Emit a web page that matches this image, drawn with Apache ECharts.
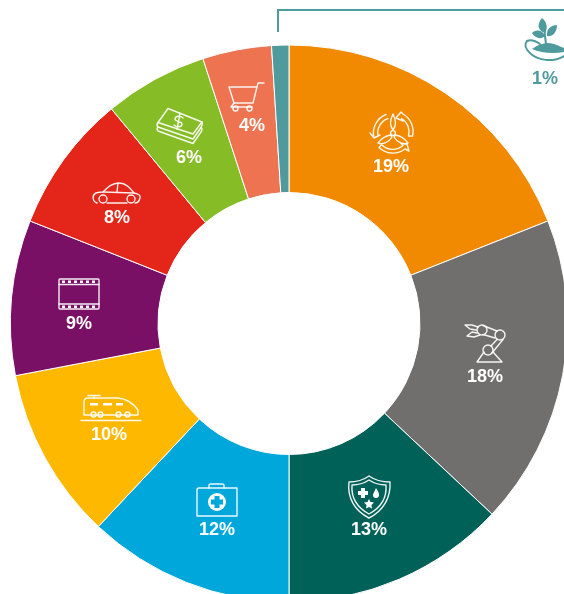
<!DOCTYPE html>
<html><head><meta charset="utf-8">
<style>html,body{margin:0;padding:0;background:#fff}#c{width:564px;height:594px}</style>
<script src="https://cdn.jsdelivr.net/npm/echarts@6/dist/echarts.min.js"></script>
</head><body><div id="c"></div>
<script>
const categories = ['Energy','Industry','Security','Health','Transport','Media','Automotive','Finance','Retail','Agriculture'];
const values = [19,18,13,12,10,9,8,6,4,1];
const colors = ['#F18A00','#706F6D','#006159','#00A7DA','#FFB800','#7A0F66','#E4251A','#86BC25','#EE7350','#4F9A9C'];
const labelPositions = [[391,167.5],[485,377.5],[369,530.5],[217,530.5],[109,435.5],[79,324.5],[117,218.5],[189,158.5],[252,126.5],[545,79.5]];
const teal = '#4F9A9C';

const W = '#fff';
const strokePaths = [
  // turbine
  'M393 130C389 125 391 118 393 114C395 118 397 125 393 130Z',
  'M390.5 135C385 136 381 139 378 143C383 145 389 142 392 137Z',
  'M395.5 135C401 136 405 139 408 143C403 145 397 142 394 137Z',
  'M395.4 133A2.4 2.4 0 1 1 390.6 133A2.4 2.4 0 1 1 395.4 133Z',
  'M386 114.5A20 20 0 0 0 374 138L370 133M374 138L380 135M388 118.5A15.5 15.5 0 0 0 378 136',
  'M412.5 136A20 20 0 0 0 403 114L401 112L396 118L403 121L401.5 118.5A15.5 15.5 0 0 1 408.5 136L412.5 136',
  'M379 147.5A20 20 0 0 0 405 149L409 151L407 144L401 143.5L403 145.5A15.5 15.5 0 0 1 381.5 144.5L379 147.5',
  // robot
  'M477 362L502 362L493 352M484 352L477 362',
  'M493 350A5 5 0 1 1 483 350A5 5 0 1 1 493 350Z',
  'M505 335A5 5 0 1 1 495 335A5 5 0 1 1 505 335Z',
  'M487 330A5 5 0 1 1 477 330A5 5 0 1 1 487 330Z',
  'M491 346L497 339.5M503 339.5L492 353M483 325.5L497 331M483 334.5L495 338',
  'M478 327L472 325L465 325L470 329L476 330M477 333L472 332L467 336L474 337L480 335',
  // shield
  'M369 476C376 481 383 482 390 482C391 498 383 511 369 518C355 511 347 498 349 482C356 482 362 481 369 476Z',
  'M369 480C375 484 381 485 386 485C387 498 380 508 369 514C358 508 351 498 352 485C357 485 363 484 369 480Z',
  // medkit
  'M197 490L197 516L237 516L237 488L199 488Q197 488 197 490Z',
  'M209 488L209 485Q209 484 211 484L222 484Q224 484 224 485L224 488',
  // train
  'M84 415L84 402Q84 398 88 398L118 398Q130 399 138 410L138 415Z',
  'M88 395.5L100 395.5M94 395.5L94 398',
  'M96 414.5A2.5 2.5 0 1 1 91 414.5A2.5 2.5 0 1 1 96 414.5Z',
  'M103 414.5A2.5 2.5 0 1 1 98 414.5A2.5 2.5 0 1 1 103 414.5Z',
  'M121 414.5A2.5 2.5 0 1 1 116 414.5A2.5 2.5 0 1 1 121 414.5Z',
  'M130 414.5A2.5 2.5 0 1 1 125 414.5A2.5 2.5 0 1 1 130 414.5Z',
  'M81 420.5L141 420.5',
  // film
  'M60 279L98 279Q99 279 99 280L99 308Q99 309 98 309L60 309Q59 309 59 308L59 280Q59 279 60 279Z',
  'M59 284.5L99 284.5M59 304L99 304',
  // car
  'M97 203C92 201 92 195 96 193C99 192 101 192 103 192C108 187 112 183 119 183C126 183 130 188 134 193C138 194 141 195 140 198C139 202 137 203 135 203M107 203L127 203',
  'M107 199A4 4 0 1 1 99 199A4 4 0 1 1 107 199Z',
  'M135 199A4 4 0 1 1 127 199A4 4 0 1 1 135 199Z',
  'M103 192L134 193M118 183L117 192',
  // money
  'M168 108.5L202 122L193 134L158 122.5Z',
  'M158 122.5Q156 125 158 127L193 139L201 127.5Q203 124 202 122',
  'M158 127Q156 129 158 131L193 143.5L201 132Q203 129 201 127.5',
  'M183 118C180 115 175 116 175 119C175 122 182 121 182 124C182 128 176 127 174 125M180 113.5L177 129',
  // cart
  'M264 83L258 83L253 103L234 103L229 87L257 87',
  'M234 103L231 107L252 107',
  'M238 108.5A2.5 2.5 0 1 1 233 108.5A2.5 2.5 0 1 1 238 108.5Z',
  'M252 108.5A2.5 2.5 0 1 1 247 108.5A2.5 2.5 0 1 1 252 108.5Z'
];
const fillPaths = [
  'M361 488L365 488L365 491L368 491L368 495L365 495L365 498L361 498L361 495L358 495L358 491L361 491Z',
  'M376 488C378 491 379 493 379 495A3 3 0 0 1 373 495C373 493 375 491 376 488Z',
  'M369 499L370.5 502L374 502.5L371.5 505L372 508.5L369 507L366 508.5L366.5 505L364 502.5L367.5 502Z',
  'M90 403L98 403L98 405.5L90 405.5Z','M103 403L112 403L112 405.5L103 405.5Z','M116 403L123 403L123 405.5L116 405.5Z',
  'M62 280.5L65 280.5L65 283L62 283Z','M68 280.5L71 280.5L71 283L68 283Z','M74 280.5L77 280.5L77 283L74 283Z','M80 280.5L83 280.5L83 283L80 283Z','M86 280.5L89 280.5L89 283L86 283Z','M92 280.5L95 280.5L95 283L92 283Z',
  'M62 305.5L65 305.5L65 308L62 308Z','M68 305.5L71 305.5L71 308L68 308Z','M74 305.5L77 305.5L77 308L74 308Z','M80 305.5L83 305.5L83 308L80 308Z','M86 305.5L89 305.5L89 308L86 308Z','M92 305.5L95 305.5L95 308L92 308Z'
];
const medPlus = 'M214.5 496L219.5 496L219.5 499.5L223 499.5L223 504.5L219.5 504.5L219.5 508L214.5 508L214.5 504.5L211 504.5L211 499.5L214.5 499.5Z';
const plantFill = [
  'M542 18C537 24 537 30 545 33C548 28 547 22 542 18Z',
  'M532 33C537 29 542 30 545 36C541 40 535 38 532 33Z',
  'M557 25C551 25 546 29 547 36C553 37 557 32 557 25Z',
  'M532 49C537 45 543 43 548 43C553 43 559 46 564 48L564 52C553 54 541 53 532 49Z'
];
const plantStroke = [
  'M545 30C544 35 546 40 546 45',
  'M527 41C524 45 526 50 531 54C538 60 552 63 564 56',
  'M527 41C531 39 536 41 540 44'
];

let shapeId = 0;
function pathEl(d, style){
  const name = 'iconPath' + (shapeId++);
  echarts.graphic.registerShape(name, echarts.graphic.extendPath(d));
  return {type:name, silent:true, style};
}
const graphicEls = [];
strokePaths.forEach(d => graphicEls.push(pathEl(d,{fill:null,stroke:'rgba(255,255,255,0.92)',lineWidth:1.4,lineJoin:'round',lineCap:'round'})));
fillPaths.forEach(d => graphicEls.push(pathEl(d,{fill:W})));
graphicEls.push({type:'circle',silent:true,shape:{cx:217,cy:502,r:9},style:{fill:W}});
graphicEls.push(pathEl(medPlus,{fill:'#00A7DA'}));
plantFill.forEach(d => graphicEls.push(pathEl(d,{fill:teal})));
plantStroke.forEach(d => graphicEls.push(pathEl(d,{fill:null,stroke:teal,lineWidth:2,lineCap:'round'})));
graphicEls.push({type:'polyline',silent:true,shape:{points:[[278,32],[278,10],[564,10]]},style:{fill:null,stroke:teal,lineWidth:2}});

const chart = echarts.init(document.getElementById('c'),null,{renderer:'canvas'});
chart.setOption({
  animation:false,
  backgroundColor:'#fff',
  tooltip:{show:false},
  graphic:{elements:graphicEls.map(e=>Object.assign({z:100},e))},
  series:[{
    type:'pie',
    center:[289,323.5],
    radius:[131,278.5],
    startAngle:90,
    clockwise:true,
    silent:true,
    itemStyle:{borderColor:'#fff',borderWidth:1},
    label:{show:true,position:'inside',formatter:'{c}%',color:'#fff',fontFamily:'Liberation Sans',fontSize:18,fontWeight:'bold'},
    labelLine:{show:false},
    labelLayout:p=>({x:labelPositions[p.dataIndex][0],y:labelPositions[p.dataIndex][1],align:'center',verticalAlign:'middle'}),
    data:categories.map((n,i)=>({
      name:n,value:values[i],itemStyle:{color:colors[i]},
      label:i===9?{color:teal}:{}
    }))
  }]
});
</script></body></html>
